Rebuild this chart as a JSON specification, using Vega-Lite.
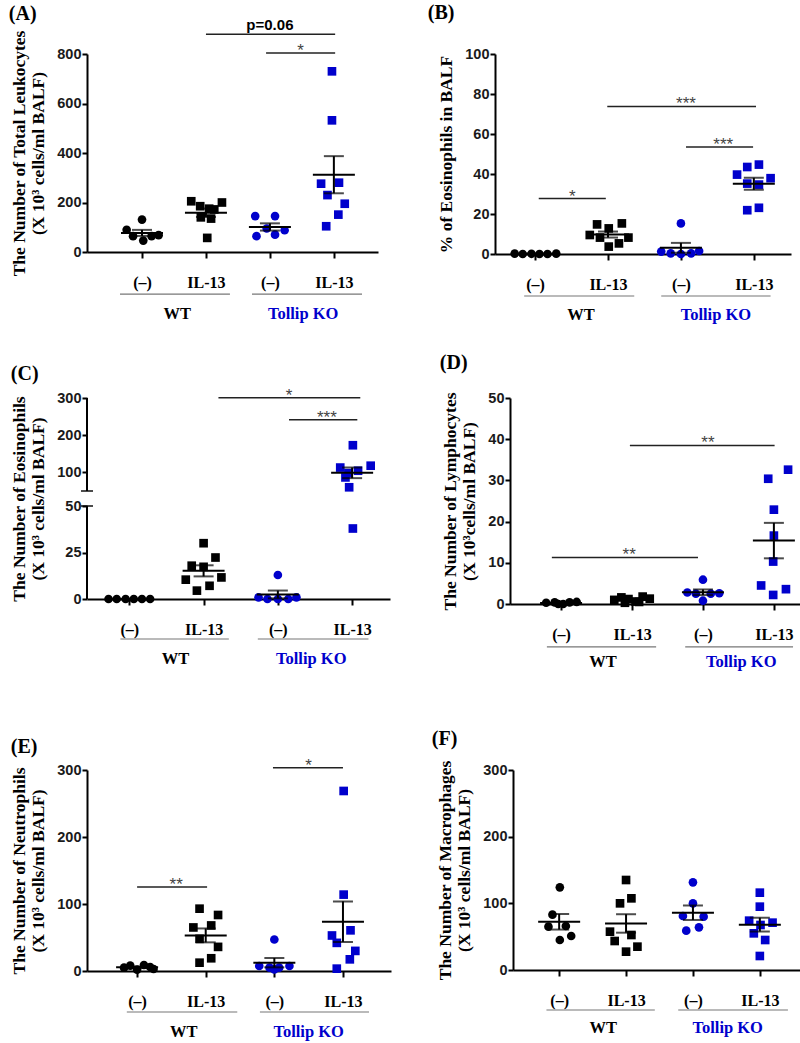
{
"$schema":"https://vega.github.io/schema/vega-lite/v6.json",
"background":"white",
"padding":{"left":8,"top":3,"right":0,"bottom":0},
"config":{
 "view":{"stroke":null},
 "axis":{"grid":false,"domainColor":"black","domainWidth":2,"tickColor":"black","tickWidth":2,"tickSize":6,"titleColor":"black"},
 "axisY":{"labelFont":"Liberation Sans","labelFontSize":14.5,"labelFontWeight":"bold","labelColor":"#1a1a1a","labelPadding":1,"tickSize":5,"labelOverlap":false,"titleFont":"Liberation Serif","titleFontSize":17.5,"titleFontWeight":"bold","titlePadding":9,"titleLineHeight":19},
 "axisX":{"labelFont":"Liberation Serif","labelFontSize":16,"labelFontWeight":"bold","labelColor":"black","labelPadding":16,"labelOverlap":false,"labelFlush":false},
 "title":{"font":"Liberation Serif","fontSize":20,"fontWeight":"bold","color":"black","anchor":"start","frame":"bounds","offset":2}
},
"datasets":{
"pts":[
{"p":"A","g":1,"x":1.0,"v":131},{"p":"A","g":1,"x":0.76,"v":90},{"p":"A","g":1,"x":0.86,"v":64},{"p":"A","g":1,"x":1.02,"v":46},{"p":"A","g":1,"x":1.15,"v":64},{"p":"A","g":1,"x":1.26,"v":68},
{"p":"A","g":2,"x":1.77,"v":205},{"p":"A","g":2,"x":1.91,"v":185},{"p":"A","g":2,"x":2.05,"v":175},{"p":"A","g":2,"x":2.25,"v":200},{"p":"A","g":2,"x":2.13,"v":172},{"p":"A","g":2,"x":1.92,"v":140},{"p":"A","g":2,"x":2.08,"v":135},{"p":"A","g":2,"x":2.02,"v":57},
{"p":"A","g":3,"x":2.77,"v":145},{"p":"A","g":3,"x":3.08,"v":145},{"p":"A","g":3,"x":2.79,"v":64},{"p":"A","g":3,"x":2.95,"v":95},{"p":"A","g":3,"x":3.08,"v":70},{"p":"A","g":3,"x":3.23,"v":88},
{"p":"A","g":4,"x":3.97,"v":730},{"p":"A","g":4,"x":3.97,"v":532},{"p":"A","g":4,"x":3.80,"v":276},{"p":"A","g":4,"x":4.08,"v":280},{"p":"A","g":4,"x":3.90,"v":230},{"p":"A","g":4,"x":4.17,"v":195},{"p":"A","g":4,"x":4.07,"v":151},{"p":"A","g":4,"x":3.88,"v":104},
{"p":"B","g":1,"x":0.72,"v":0.2},{"p":"B","g":1,"x":0.83,"v":0},{"p":"B","g":1,"x":0.95,"v":0.1},{"p":"B","g":1,"x":1.06,"v":0},{"p":"B","g":1,"x":1.17,"v":0},{"p":"B","g":1,"x":1.29,"v":0.2},
{"p":"B","g":2,"x":1.85,"v":14.8},{"p":"B","g":2,"x":2.19,"v":15.3},{"p":"B","g":2,"x":2.01,"v":12.8},{"p":"B","g":2,"x":1.75,"v":9.5},{"p":"B","g":2,"x":1.89,"v":8.2},{"p":"B","g":2,"x":2.28,"v":8.2},{"p":"B","g":2,"x":2.01,"v":3.7},{"p":"B","g":2,"x":2.15,"v":5.3},
{"p":"B","g":3,"x":3.0,"v":15.3},{"p":"B","g":3,"x":2.73,"v":1.2},{"p":"B","g":3,"x":2.86,"v":0.3},{"p":"B","g":3,"x":3.0,"v":0},{"p":"B","g":3,"x":3.14,"v":0.3},{"p":"B","g":3,"x":3.25,"v":1.5},
{"p":"B","g":4,"x":3.77,"v":39.7},{"p":"B","g":4,"x":3.91,"v":43.5},{"p":"B","g":4,"x":4.07,"v":44.7},{"p":"B","g":4,"x":4.23,"v":37.9},{"p":"B","g":4,"x":3.91,"v":35.2},{"p":"B","g":4,"x":4.07,"v":34.7},{"p":"B","g":4,"x":3.91,"v":21.9},{"p":"B","g":4,"x":4.07,"v":23.1},
{"p":"C","g":1,"x":0.72,"v":0},{"p":"C","g":1,"x":0.83,"v":0},{"p":"C","g":1,"x":0.95,"v":0},{"p":"C","g":1,"x":1.06,"v":0},{"p":"C","g":1,"x":1.17,"v":0},{"p":"C","g":1,"x":1.28,"v":0},
{"p":"C","g":2,"x":2.0,"v":30},{"p":"C","g":2,"x":2.16,"v":22.3},{"p":"C","g":2,"x":1.84,"v":17.9},{"p":"C","g":2,"x":2.0,"v":17.3},{"p":"C","g":2,"x":1.76,"v":10.4},{"p":"C","g":2,"x":2.24,"v":11.6},{"p":"C","g":2,"x":2.08,"v":7.1},{"p":"C","g":2,"x":1.91,"v":4.5},
{"p":"C","g":3,"x":3.0,"v":12.9},{"p":"C","g":3,"x":2.74,"v":0.9},{"p":"C","g":3,"x":2.86,"v":0},{"p":"C","g":3,"x":3.0,"v":0},{"p":"C","g":3,"x":3.14,"v":0},{"p":"C","g":3,"x":3.25,"v":0.9},
{"p":"C","g":4,"x":4.01,"v":173},{"p":"C","g":4,"x":4.25,"v":118},{"p":"C","g":4,"x":3.84,"v":113},{"p":"C","g":4,"x":4.08,"v":104.5},{"p":"C","g":4,"x":3.95,"v":98},{"p":"C","g":4,"x":3.91,"v":86.5},{"p":"C","g":4,"x":3.96,"v":60},{"p":"C","g":4,"x":4.01,"v":37.9},
{"p":"D","g":1,"x":0.79,"v":0.3},{"p":"D","g":1,"x":0.91,"v":0.4},{"p":"D","g":1,"x":1.03,"v":0},{"p":"D","g":1,"x":1.12,"v":0.4},{"p":"D","g":1,"x":1.22,"v":0.5},{"p":"D","g":1,"x":0.96,"v":0},
{"p":"D","g":2,"x":1.75,"v":1.0},{"p":"D","g":2,"x":1.85,"v":1.6},{"p":"D","g":2,"x":1.95,"v":1.2},{"p":"D","g":2,"x":2.05,"v":0.6},{"p":"D","g":2,"x":2.15,"v":1.8},{"p":"D","g":2,"x":2.25,"v":1.3},{"p":"D","g":2,"x":1.9,"v":0.3},{"p":"D","g":2,"x":2.1,"v":0.5},
{"p":"D","g":3,"x":3.0,"v":5.9},{"p":"D","g":3,"x":2.78,"v":2.8},{"p":"D","g":3,"x":2.9,"v":2.5},{"p":"D","g":3,"x":3.11,"v":2.5},{"p":"D","g":3,"x":3.23,"v":2.6},{"p":"D","g":3,"x":3.0,"v":0.8},
{"p":"D","g":4,"x":4.2,"v":32.6},{"p":"D","g":4,"x":3.92,"v":30.4},{"p":"D","g":4,"x":4.0,"v":22.9},{"p":"D","g":4,"x":4.0,"v":16.6},{"p":"D","g":4,"x":3.99,"v":10.3},{"p":"D","g":4,"x":3.82,"v":4.5},{"p":"D","g":4,"x":4.17,"v":3.6},{"p":"D","g":4,"x":3.99,"v":2.2},
{"p":"E","g":1,"x":0.81,"v":5},{"p":"E","g":1,"x":0.9,"v":8},{"p":"E","g":1,"x":1.0,"v":2},{"p":"E","g":1,"x":1.1,"v":9},{"p":"E","g":1,"x":1.19,"v":6},{"p":"E","g":1,"x":1.24,"v":3},
{"p":"E","g":2,"x":1.91,"v":93},{"p":"E","g":2,"x":2.18,"v":83.6},{"p":"E","g":2,"x":2.08,"v":68},{"p":"E","g":2,"x":1.82,"v":65},{"p":"E","g":2,"x":1.91,"v":48},{"p":"E","g":2,"x":2.18,"v":36},{"p":"E","g":2,"x":2.08,"v":19},{"p":"E","g":2,"x":1.91,"v":12.4},
{"p":"E","g":3,"x":3.0,"v":47},{"p":"E","g":3,"x":2.78,"v":7.5},{"p":"E","g":3,"x":2.93,"v":5},{"p":"E","g":3,"x":3.07,"v":5},{"p":"E","g":3,"x":3.22,"v":7.5},{"p":"E","g":3,"x":3.0,"v":2.5},
{"p":"E","g":4,"x":4.01,"v":268.7},{"p":"E","g":4,"x":4.01,"v":114},{"p":"E","g":4,"x":4.11,"v":60.7},{"p":"E","g":4,"x":3.84,"v":53},{"p":"E","g":4,"x":3.91,"v":42},{"p":"E","g":4,"x":4.18,"v":30},{"p":"E","g":4,"x":4.1,"v":17.4},{"p":"E","g":4,"x":3.91,"v":3.5},
{"p":"F","g":1,"x":1.01,"v":124},{"p":"F","g":1,"x":0.9,"v":83},{"p":"F","g":1,"x":0.84,"v":65},{"p":"F","g":1,"x":1.1,"v":66},{"p":"F","g":1,"x":1.18,"v":51},{"p":"F","g":1,"x":1.01,"v":45},
{"p":"F","g":2,"x":2.0,"v":135},{"p":"F","g":2,"x":2.08,"v":107.5},{"p":"F","g":2,"x":1.91,"v":100},{"p":"F","g":2,"x":1.76,"v":57.5},{"p":"F","g":2,"x":2.08,"v":52.5},{"p":"F","g":2,"x":1.83,"v":43.5},{"p":"F","g":2,"x":2.17,"v":35},{"p":"F","g":2,"x":2.0,"v":27.5},
{"p":"F","g":3,"x":3.0,"v":131.5},{"p":"F","g":3,"x":3.0,"v":100},{"p":"F","g":3,"x":2.85,"v":81},{"p":"F","g":3,"x":3.16,"v":80},{"p":"F","g":3,"x":2.9,"v":59},{"p":"F","g":3,"x":3.09,"v":64},
{"p":"F","g":4,"x":4.0,"v":116},{"p":"F","g":4,"x":4.0,"v":95},{"p":"F","g":4,"x":3.84,"v":74},{"p":"F","g":4,"x":4.19,"v":71},{"p":"F","g":4,"x":4.01,"v":67.5},{"p":"F","g":4,"x":3.91,"v":55},{"p":"F","g":4,"x":4.08,"v":45},{"p":"F","g":4,"x":4.0,"v":21}
],
"sig":[
{"p":"A","x1":2,"x2":4.02,"y":880,"t":"p=0.06","xm":3.0},
{"p":"A","x1":2.94,"x2":4.02,"y":804,"t":"*","xm":3.48},
{"p":"B","x1":1.05,"x2":1.97,"y":27.7,"t":"*","xm":1.51},
{"p":"B","x1":1.99,"x2":4.03,"y":73.8,"t":"***","xm":3.07},
{"p":"B","x1":3.07,"x2":3.99,"y":53.5,"t":"***","xm":3.58},
{"p":"C","x1":2.2,"x2":4.11,"y":301,"t":"*","xm":3.15},
{"p":"C","x1":3.15,"x2":4.07,"y":241.7,"t":"***","xm":3.66},
{"p":"D","x1":1.97,"x2":4.01,"y":38.5,"t":"**","xm":3.07},
{"p":"D","x1":0.87,"x2":2.93,"y":11.3,"t":"**","xm":1.96},
{"p":"E","x1":1.0,"x2":2.02,"y":125.4,"t":"**","xm":1.57},
{"p":"E","x1":2.98,"x2":4.0,"y":303.5,"t":"*","xm":3.5}
],
"grp":[
{"p":"A","t":"WT","xa":0.656,"xb":2.375,"xm":1.55},{"p":"A","t":"Tollip KO","xa":2.72,"xb":4.44,"xm":3.52},
{"p":"B","t":"WT","xa":0.85,"xb":2.36,"xm":1.63},{"p":"B","t":"Tollip KO","xa":2.73,"xb":4.23,"xm":3.48},
{"p":"C","t":"WT","xa":0.88,"xb":2.34,"xm":1.62},{"p":"C","t":"Tollip KO","xa":2.73,"xb":4.22,"xm":3.45},
{"p":"D","t":"WT","xa":0.80,"xb":2.34,"xm":1.59},{"p":"D","t":"Tollip KO","xa":2.75,"xb":4.27,"xm":3.54},
{"p":"E","t":"WT","xa":0.85,"xb":2.46,"xm":1.68},{"p":"E","t":"Tollip KO","xa":2.79,"xb":4.38,"xm":3.50},
{"p":"F","t":"WT","xa":0.81,"xb":2.43,"xm":1.66},{"p":"F","t":"Tollip KO","xa":2.78,"xb":4.42,"xm":3.52}
]
},
"spacing":58,
"vconcat":[
{"spacing":29,"vconcat":[
{"spacing":49,"hconcat":[
{"width":291,"height":198,"title":{"text":"(A)","dx":-2,"offset":-6},
 "resolve":{"scale":{"color":"independent","shape":"independent"}},
 "layer":[
  {"data":{"name":"pts"},"transform":[{"filter":"datum.p==='A'"}],"mark":{"type":"point","filled":true,"size":75,"opacity":1},
   "encoding":{"x":{"field":"x","type":"quantitative","scale":{"domain":[0.14,4.69],"nice":false,"zero":false},"axis":{"values":[1,2,3,4],"labelExpr":"datum.value==1||datum.value==3?'(–)':'IL-13'","title":null}},
    "y":{"field":"v","type":"quantitative","scale":{"domain":[0,800],"nice":false,"zero":false},"axis":{"values":[0,200,400,600,800],"tickCount":10,"labelOverlap":false,"title":["The Number of Total Leukocytes","(X 10³ cells/ml BALF)"]}},
    "color":{"field":"g","type":"nominal","scale":{"domain":[1,2,3,4],"range":["black","black","#0000cc","#0000cc"]},"legend":null},
    "shape":{"field":"g","type":"nominal","scale":{"domain":[1,2,3,4],"range":["circle","square","circle","square"]},"legend":null}}},
  {"data":{"name":"pts"},"transform":[{"filter":"datum.p==='A'"}],"mark":{"type":"errorbar","extent":"stderr","orient":"vertical","color":"black","thickness":2,"ticks":{"size":20}},
   "encoding":{"x":{"field":"g","type":"quantitative","title":null},"y":{"field":"v","type":"quantitative","title":["The Number of Total Leukocytes","(X 10³ cells/ml BALF)"],"axis":{"values":[0,200,400,600,800],"tickCount":10,"labelOverlap":false}}}},
  {"data":{"name":"pts"},"transform":[{"filter":"datum.p==='A'"}],"mark":{"type":"tick","orient":"horizontal","size":42,"thickness":2,"color":"black"},
   "encoding":{"x":{"field":"g","type":"quantitative"},"y":{"aggregate":"mean","field":"v","type":"quantitative"}}},
  {"data":{"name":"sig"},"transform":[{"filter":"datum.p==='A'"}],"mark":{"type":"rule","strokeWidth":1.5,"color":"#222"},
   "encoding":{"x":{"field":"x1","type":"quantitative"},"x2":{"field":"x2"},"y":{"field":"y","type":"quantitative"}}},
  {"data":{"name":"sig"},"transform":[{"filter":"datum.p==='A' && datum.t!=='p=0.06'"}],"mark":{"type":"text","font":"Liberation Sans","fontSize":17,"color":"#444","baseline":"alphabetic","dy":3},
   "encoding":{"x":{"field":"xm","type":"quantitative"},"y":{"field":"y","type":"quantitative"},"text":{"field":"t"}}},
  {"data":{"name":"sig"},"transform":[{"filter":"datum.p==='A' && datum.t==='p=0.06'"}],"mark":{"type":"text","font":"Liberation Sans","fontSize":15,"fontWeight":"bold","color":"black","baseline":"alphabetic","dy":-4},
   "encoding":{"x":{"field":"xm","type":"quantitative"},"y":{"field":"y","type":"quantitative"},"text":{"field":"t"}}},
  {"data":{"name":"grp"},"transform":[{"filter":"datum.p==='A'"}],"mark":{"type":"rule","strokeWidth":1.2,"color":"#777"},
   "encoding":{"x":{"field":"xa","type":"quantitative"},"x2":{"field":"xb"},"y":{"datum":-170}}},
  {"data":{"name":"grp"},"transform":[{"filter":"datum.p==='A'"}],"mark":{"type":"text","font":"Liberation Serif","fontSize":16.5,"fontWeight":"bold","baseline":"middle"},
   "encoding":{"x":{"field":"xm","type":"quantitative"},"y":{"datum":-250},"text":{"field":"t"},"color":{"field":"t","type":"nominal","scale":{"domain":["WT","Tollip KO"],"range":["black","#0000cc"]},"legend":null}}}
 ]},
{"width":296,"height":200,"title":{"text":"(B)","dx":-10,"offset":23},
 "resolve":{"scale":{"color":"independent","shape":"independent"}},
 "layer":[
  {"data":{"name":"pts"},"transform":[{"filter":"datum.p==='B'"}],"mark":{"type":"point","filled":true,"size":75,"opacity":1},
   "encoding":{"x":{"field":"x","type":"quantitative","scale":{"domain":[0.45,4.51],"nice":false,"zero":false},"axis":{"values":[1,2,3,4],"labelExpr":"datum.value==1||datum.value==3?'(–)':'IL-13'","title":null}},
    "y":{"field":"v","type":"quantitative","scale":{"domain":[0,100],"nice":false,"zero":false},"axis":{"values":[0,20,40,60,80,100],"tickCount":10,"labelOverlap":false,"title":["% of Eosinophils in BALF"]}},
    "color":{"field":"g","type":"nominal","scale":{"domain":[1,2,3,4],"range":["black","black","#0000cc","#0000cc"]},"legend":null},
    "shape":{"field":"g","type":"nominal","scale":{"domain":[1,2,3,4],"range":["circle","square","circle","square"]},"legend":null}}},
  {"data":{"name":"pts"},"transform":[{"filter":"datum.p==='B'"}],"mark":{"type":"errorbar","extent":"stderr","orient":"vertical","color":"black","thickness":2,"ticks":{"size":20}},
   "encoding":{"x":{"field":"g","type":"quantitative","title":null},"y":{"field":"v","type":"quantitative","title":["% of Eosinophils in BALF"],"axis":{"values":[0,20,40,60,80,100],"tickCount":10,"labelOverlap":false}}}},
  {"data":{"name":"pts"},"transform":[{"filter":"datum.p==='B'"}],"mark":{"type":"tick","orient":"horizontal","size":42,"thickness":2,"color":"black"},
   "encoding":{"x":{"field":"g","type":"quantitative"},"y":{"aggregate":"mean","field":"v","type":"quantitative"}}},
  {"data":{"name":"sig"},"transform":[{"filter":"datum.p==='B'"}],"mark":{"type":"rule","strokeWidth":1.5,"color":"#222"},
   "encoding":{"x":{"field":"x1","type":"quantitative"},"x2":{"field":"x2"},"y":{"field":"y","type":"quantitative"}}},
  {"data":{"name":"sig"},"transform":[{"filter":"datum.p==='B'"}],"mark":{"type":"text","font":"Liberation Sans","fontSize":17,"color":"#444","baseline":"alphabetic","dy":3},
   "encoding":{"x":{"field":"xm","type":"quantitative"},"y":{"field":"y","type":"quantitative"},"text":{"field":"t"}}},
  {"data":{"name":"grp"},"transform":[{"filter":"datum.p==='B'"}],"mark":{"type":"rule","strokeWidth":1.2,"color":"#777"},
   "encoding":{"x":{"field":"xa","type":"quantitative"},"x2":{"field":"xb"},"y":{"datum":-21}}},
  {"data":{"name":"grp"},"transform":[{"filter":"datum.p==='B'"}],"mark":{"type":"text","font":"Liberation Serif","fontSize":16.5,"fontWeight":"bold","baseline":"middle"},
   "encoding":{"x":{"field":"xm","type":"quantitative"},"y":{"datum":-30.5},"text":{"field":"t"},"color":{"field":"t","type":"nominal","scale":{"domain":["WT","Tollip KO"],"range":["black","#0000cc"]},"legend":null}}}
 ]}
]},
{"spacing":49,"hconcat":[
{"width":303,"height":201,"title":{"text":"(C)","dx":0,"offset":3},
 "resolve":{"scale":{"color":"independent","shape":"independent"}},
 "layer":[
  {"data":{"name":"pts"},"transform":[{"filter":"datum.p==='C'"}],"mark":{"type":"point","filled":true,"size":75,"opacity":1},
   "encoding":{"x":{"field":"x","type":"quantitative","scale":{"domain":[0.43,4.51],"nice":false,"zero":false},"axis":{"values":[1,2,3,4],"labelExpr":"datum.value==1||datum.value==3?'(–)':'IL-13'","title":null}},
    "y":{"field":"v","type":"quantitative","scale":{"domain":[0,50,50.001,300],"range":[201,108,93,0],"nice":false,"zero":false},"axis":{"values":[0,25,50,100,200,300],"tickCount":10,"labelOverlap":false,"domain":false,"title":["The Number of Eosinophils","(X 10³ cells/ml BALF)"]}},
    "color":{"field":"g","type":"nominal","scale":{"domain":[1,2,3,4],"range":["black","black","#0000cc","#0000cc"]},"legend":null},
    "shape":{"field":"g","type":"nominal","scale":{"domain":[1,2,3,4],"range":["circle","square","circle","square"]},"legend":null}}},
  {"data":{"values":[{}]},"mark":{"type":"rule","strokeWidth":2,"color":"black"},
   "encoding":{"x":{"datum":0.43,"type":"quantitative"},"y":{"datum":0,"type":"quantitative"},"y2":{"datum":50}}},
  {"data":{"values":[{}]},"mark":{"type":"rule","strokeWidth":2,"color":"black"},
   "encoding":{"x":{"datum":0.43,"type":"quantitative"},"y":{"datum":50.001,"type":"quantitative"},"y2":{"datum":300}}},
  {"data":{"values":[{"b":50},{"b":50.001}]},"mark":{"type":"tick","orient":"horizontal","size":12,"thickness":2,"color":"black"},
   "encoding":{"x":{"datum":0.43,"type":"quantitative"},"y":{"field":"b","type":"quantitative"}}},
  {"data":{"name":"pts"},"transform":[{"filter":"datum.p==='C'"}],"mark":{"type":"errorbar","extent":"stderr","orient":"vertical","color":"black","thickness":2,"ticks":{"size":20}},
   "encoding":{"x":{"field":"g","type":"quantitative","title":null},"y":{"field":"v","type":"quantitative","title":["The Number of Eosinophils","(X 10³ cells/ml BALF)"]}}},
  {"data":{"name":"pts"},"transform":[{"filter":"datum.p==='C'"}],"mark":{"type":"tick","orient":"horizontal","size":42,"thickness":2,"color":"black"},
   "encoding":{"x":{"field":"g","type":"quantitative"},"y":{"aggregate":"mean","field":"v","type":"quantitative"}}},
  {"data":{"name":"sig"},"transform":[{"filter":"datum.p==='C'"}],"mark":{"type":"rule","strokeWidth":1.5,"color":"#222"},
   "encoding":{"x":{"field":"x1","type":"quantitative"},"x2":{"field":"x2"},"y":{"field":"y","type":"quantitative"}}},
  {"data":{"name":"sig"},"transform":[{"filter":"datum.p==='C'"}],"mark":{"type":"text","font":"Liberation Sans","fontSize":17,"color":"#444","baseline":"alphabetic","dy":3},
   "encoding":{"x":{"field":"xm","type":"quantitative"},"y":{"field":"y","type":"quantitative"},"text":{"field":"t"}}},
  {"data":{"name":"grp"},"transform":[{"filter":"datum.p==='C'"}],"mark":{"type":"rule","strokeWidth":1.2,"color":"#777"},
   "encoding":{"x":{"field":"xa","type":"quantitative"},"x2":{"field":"xb"},"y":{"datum":-21.5}}},
  {"data":{"name":"grp"},"transform":[{"filter":"datum.p==='C'"}],"mark":{"type":"text","font":"Liberation Serif","fontSize":16.5,"fontWeight":"bold","baseline":"middle"},
   "encoding":{"x":{"field":"xm","type":"quantitative"},"y":{"datum":-32.3},"text":{"field":"t"},"color":{"field":"t","type":"nominal","scale":{"domain":["WT","Tollip KO"],"range":["black","#0000cc"]},"legend":null}}}
 ]},
{"width":310,"height":206,"title":{"text":"(D)","dx":-2,"offset":17},
 "resolve":{"scale":{"color":"independent","shape":"independent"}},
 "layer":[
  {"data":{"name":"pts"},"transform":[{"filter":"datum.p==='D'"}],"mark":{"type":"point","filled":true,"size":75,"opacity":1},
   "encoding":{"x":{"field":"x","type":"quantitative","scale":{"domain":[0.28,4.65],"nice":false,"zero":false},"axis":{"values":[1,2,3,4],"labelExpr":"datum.value==1||datum.value==3?'(–)':'IL-13'","title":null}},
    "y":{"field":"v","type":"quantitative","scale":{"domain":[0,50],"nice":false,"zero":false},"axis":{"values":[0,10,20,30,40,50],"tickCount":10,"labelOverlap":false,"title":["The Number of Lymphocytes","(X 10³cells/ml BALF)"]}},
    "color":{"field":"g","type":"nominal","scale":{"domain":[1,2,3,4],"range":["black","black","#0000cc","#0000cc"]},"legend":null},
    "shape":{"field":"g","type":"nominal","scale":{"domain":[1,2,3,4],"range":["circle","square","circle","square"]},"legend":null}}},
  {"data":{"name":"pts"},"transform":[{"filter":"datum.p==='D'"}],"mark":{"type":"errorbar","extent":"stderr","orient":"vertical","color":"black","thickness":2,"ticks":{"size":20}},
   "encoding":{"x":{"field":"g","type":"quantitative","title":null},"y":{"field":"v","type":"quantitative","title":["The Number of Lymphocytes","(X 10³cells/ml BALF)"]}}},
  {"data":{"name":"pts"},"transform":[{"filter":"datum.p==='D'"}],"mark":{"type":"tick","orient":"horizontal","size":42,"thickness":2,"color":"black"},
   "encoding":{"x":{"field":"g","type":"quantitative"},"y":{"aggregate":"mean","field":"v","type":"quantitative"}}},
  {"data":{"name":"sig"},"transform":[{"filter":"datum.p==='D'"}],"mark":{"type":"rule","strokeWidth":1.5,"color":"#222"},
   "encoding":{"x":{"field":"x1","type":"quantitative"},"x2":{"field":"x2"},"y":{"field":"y","type":"quantitative"}}},
  {"data":{"name":"sig"},"transform":[{"filter":"datum.p==='D'"}],"mark":{"type":"text","font":"Liberation Sans","fontSize":17,"color":"#444","baseline":"alphabetic","dy":3},
   "encoding":{"x":{"field":"xm","type":"quantitative"},"y":{"field":"y","type":"quantitative"},"text":{"field":"t"}}},
  {"data":{"name":"grp"},"transform":[{"filter":"datum.p==='D'"}],"mark":{"type":"rule","strokeWidth":1.2,"color":"#777"},
   "encoding":{"x":{"field":"xa","type":"quantitative"},"x2":{"field":"xb"},"y":{"datum":-10.4}}},
  {"data":{"name":"grp"},"transform":[{"filter":"datum.p==='D'"}],"mark":{"type":"text","font":"Liberation Serif","fontSize":16.5,"fontWeight":"bold","baseline":"middle"},
   "encoding":{"x":{"field":"xm","type":"quantitative"},"y":{"datum":-14.1},"text":{"field":"t"},"color":{"field":"t","type":"nominal","scale":{"domain":["WT","Tollip KO"],"range":["black","#0000cc"]},"legend":null}}}
 ]}
]}
]},
{"spacing":40,"hconcat":[
{"width":304,"height":201,"title":{"text":"(E)","dx":0,"offset":0},
 "resolve":{"scale":{"color":"independent","shape":"independent"}},
 "layer":[
  {"data":{"name":"pts"},"transform":[{"filter":"datum.p==='E'"}],"mark":{"type":"point","filled":true,"size":75,"opacity":1},
   "encoding":{"x":{"field":"x","type":"quantitative","scale":{"domain":[0.27,4.70],"nice":false,"zero":false},"axis":{"values":[1,2,3,4],"labelExpr":"datum.value==1||datum.value==3?'(–)':'IL-13'","title":null}},
    "y":{"field":"v","type":"quantitative","scale":{"domain":[0,300],"nice":false,"zero":false},"axis":{"values":[0,100,200,300],"tickCount":10,"labelOverlap":false,"title":["The Number of Neutrophils","(X 10³ cells/ml BALF)"]}},
    "color":{"field":"g","type":"nominal","scale":{"domain":[1,2,3,4],"range":["black","black","#0000cc","#0000cc"]},"legend":null},
    "shape":{"field":"g","type":"nominal","scale":{"domain":[1,2,3,4],"range":["circle","square","circle","square"]},"legend":null}}},
  {"data":{"name":"pts"},"transform":[{"filter":"datum.p==='E'"}],"mark":{"type":"errorbar","extent":"stderr","orient":"vertical","color":"black","thickness":2,"ticks":{"size":20}},
   "encoding":{"x":{"field":"g","type":"quantitative","title":null},"y":{"field":"v","type":"quantitative","title":["The Number of Neutrophils","(X 10³ cells/ml BALF)"]}}},
  {"data":{"name":"pts"},"transform":[{"filter":"datum.p==='E'"}],"mark":{"type":"tick","orient":"horizontal","size":42,"thickness":2,"color":"black"},
   "encoding":{"x":{"field":"g","type":"quantitative"},"y":{"aggregate":"mean","field":"v","type":"quantitative"}}},
  {"data":{"name":"sig"},"transform":[{"filter":"datum.p==='E'"}],"mark":{"type":"rule","strokeWidth":1.5,"color":"#222"},
   "encoding":{"x":{"field":"x1","type":"quantitative"},"x2":{"field":"x2"},"y":{"field":"y","type":"quantitative"}}},
  {"data":{"name":"sig"},"transform":[{"filter":"datum.p==='E'"}],"mark":{"type":"text","font":"Liberation Sans","fontSize":17,"color":"#444","baseline":"alphabetic","dy":3},
   "encoding":{"x":{"field":"xm","type":"quantitative"},"y":{"field":"y","type":"quantitative"},"text":{"field":"t"}}},
  {"data":{"name":"grp"},"transform":[{"filter":"datum.p==='E'"}],"mark":{"type":"rule","strokeWidth":1.2,"color":"#777"},
   "encoding":{"x":{"field":"xa","type":"quantitative"},"x2":{"field":"xb"},"y":{"datum":-61.2}}},
  {"data":{"name":"grp"},"transform":[{"filter":"datum.p==='E'"}],"mark":{"type":"text","font":"Liberation Serif","fontSize":16.5,"fontWeight":"bold","baseline":"middle"},
   "encoding":{"x":{"field":"xm","type":"quantitative"},"y":{"datum":-91},"text":{"field":"t"},"color":{"field":"t","type":"nominal","scale":{"domain":["WT","Tollip KO"],"range":["black","#0000cc"]},"legend":null}}}
 ]},
{"width":295,"height":200,"title":{"text":"(F)","dx":-5,"offset":11},
 "resolve":{"scale":{"color":"independent","shape":"independent"}},
 "layer":[
  {"data":{"name":"pts"},"transform":[{"filter":"datum.p==='F'"}],"mark":{"type":"point","filled":true,"size":75,"opacity":1},
   "encoding":{"x":{"field":"x","type":"quantitative","scale":{"domain":[0.31,4.72],"nice":false,"zero":false},"axis":{"values":[1,2,3,4],"labelExpr":"datum.value==1||datum.value==3?'(–)':'IL-13'","title":null}},
    "y":{"field":"v","type":"quantitative","scale":{"domain":[0,300],"nice":false,"zero":false},"axis":{"values":[0,100,200,300],"tickCount":10,"labelOverlap":false,"title":["The Number of Macrophages","(X 10³ cells/ml BALF)"]}},
    "color":{"field":"g","type":"nominal","scale":{"domain":[1,2,3,4],"range":["black","black","#0000cc","#0000cc"]},"legend":null},
    "shape":{"field":"g","type":"nominal","scale":{"domain":[1,2,3,4],"range":["circle","square","circle","square"]},"legend":null}}},
  {"data":{"name":"pts"},"transform":[{"filter":"datum.p==='F'"}],"mark":{"type":"errorbar","extent":"stderr","orient":"vertical","color":"black","thickness":2,"ticks":{"size":20}},
   "encoding":{"x":{"field":"g","type":"quantitative","title":null},"y":{"field":"v","type":"quantitative","title":["The Number of Macrophages","(X 10³ cells/ml BALF)"]}}},
  {"data":{"name":"pts"},"transform":[{"filter":"datum.p==='F'"}],"mark":{"type":"tick","orient":"horizontal","size":42,"thickness":2,"color":"black"},
   "encoding":{"x":{"field":"g","type":"quantitative"},"y":{"aggregate":"mean","field":"v","type":"quantitative"}}},
  {"data":{"name":"grp"},"transform":[{"filter":"datum.p==='F'"}],"mark":{"type":"rule","strokeWidth":1.2,"color":"#777"},
   "encoding":{"x":{"field":"xa","type":"quantitative"},"x2":{"field":"xb"},"y":{"datum":-60}}},
  {"data":{"name":"grp"},"transform":[{"filter":"datum.p==='F'"}],"mark":{"type":"text","font":"Liberation Serif","fontSize":16.5,"fontWeight":"bold","baseline":"middle"},
   "encoding":{"x":{"field":"xm","type":"quantitative"},"y":{"datum":-87},"text":{"field":"t"},"color":{"field":"t","type":"nominal","scale":{"domain":["WT","Tollip KO"],"range":["black","#0000cc"]},"legend":null}}}
 ]}
]}
]
}
